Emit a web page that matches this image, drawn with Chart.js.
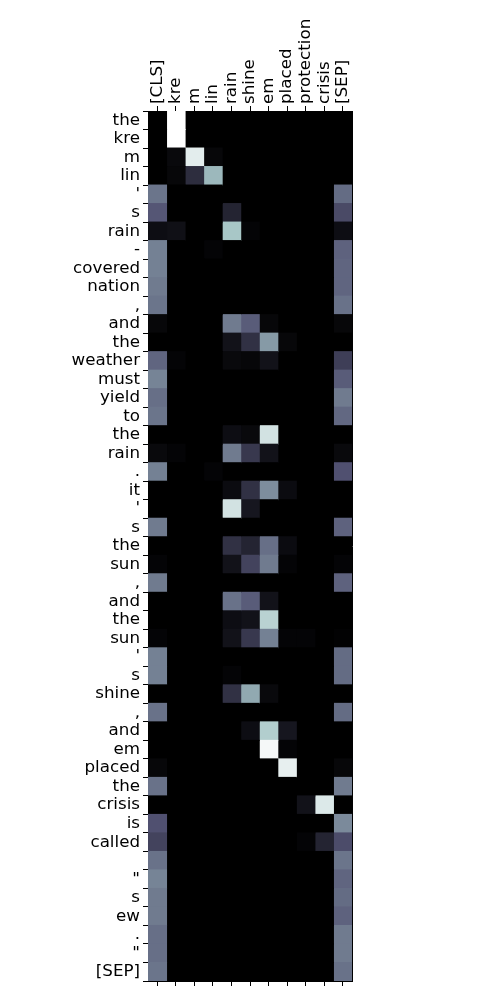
<!DOCTYPE html>
<html>
<head>
<meta charset="utf-8">
<script src="https://cdn.jsdelivr.net/npm/chart.js@4/dist/chart.umd.min.js"></script>
<style>
html,body{margin:0;padding:0;background:#fff;}
#wrap{width:500px;height:1000px;}
</style>
</head>
<body>
<div id="wrap"><canvas id="c" width="500" height="1000"></canvas></div>
<script>
const colTokens = ['[CLS]','kre','m','lin','rain','shine','em','placed','protection','crisis','[SEP]'];
const rowTokens = ['the','kre','m','lin',"'",'s','rain','-','covered','nation',',','and','the','weather','must','yield','to','the','rain','.','it',"'",'s','the','sun',',','and','the','sun',"'",'s','shine',',','and','em','placed','the','crisis','is','called',' ','"','s','ew','.','"','[SEP]'];
// attention weights (row token -> column token), 0..1
const attention = [
  [0,1,0,0,0,0,0,0,0,0,0],
  [0,1,0,0,0,0,0,0,0,0,0],
  [0,.04,.92,.03,0,0,0,0,0,0,0],
  [0,.03,.2,.7,0,0,0,0,0,0,0],
  [.48,0,0,0,0,0,0,0,0,0,.45],
  [.38,0,0,0,.16,0,0,0,0,0,.33],
  [.06,.07,0,0,.75,.02,0,0,0,0,.06],
  [.52,0,0,.02,0,0,0,0,0,0,.42],
  [.52,0,0,0,0,0,0,0,0,0,.43],
  [.5,0,0,0,0,0,0,0,0,0,.43],
  [.48,0,0,0,0,0,0,0,0,0,.47],
  [.03,0,0,0,.5,.4,.03,0,0,0,.03],
  [0,0,0,0,.08,.22,.6,.03,0,0,0],
  [.43,.02,0,0,.04,.03,.08,0,0,0,.28],
  [.53,0,0,0,0,0,0,0,0,0,.4],
  [.46,0,0,0,0,0,0,0,0,0,.5],
  [.48,0,0,0,0,0,0,0,0,0,.44],
  [0,0,0,0,.06,.04,.87,0,0,0,0],
  [.04,.02,0,0,.5,.25,.08,0,0,0,.04],
  [.52,0,0,.02,0,0,0,0,0,0,.36],
  [0,0,0,0,.05,.22,.56,.05,0,0,0],
  [0,0,0,0,.87,.1,0,0,0,0,0],
  [.5,0,0,0,0,0,0,0,0,0,.42],
  [0,0,0,0,.22,.16,.46,.05,0,0,0],
  [.02,0,0,0,.08,.3,.5,.02,0,0,.02],
  [.5,0,0,0,0,0,0,0,0,0,.42],
  [0,0,0,0,.47,.4,.08,0,0,0,0],
  [0,0,0,0,.06,.08,.8,0,0,0,0],
  [.02,0,0,0,.08,.25,.52,.02,.02,0,.01],
  [.52,0,0,0,0,0,0,0,0,0,.45],
  [.52,0,0,0,.02,0,0,0,0,0,.45],
  [0,0,0,0,.22,.65,.04,0,0,0,0],
  [.47,0,0,0,0,0,0,0,0,0,.45],
  [0,0,0,0,0,.06,.78,.1,0,0,0],
  [0,0,0,0,0,0,.97,.02,0,0,0],
  [.03,0,0,0,0,0,0,.93,0,0,.03],
  [.47,0,0,0,0,0,0,0,0,0,.5],
  [0,0,0,0,0,0,0,0,.08,.9,0],
  [.36,0,0,0,0,0,0,0,0,0,.55],
  [.3,0,0,0,0,0,0,0,.02,.16,.34],
  [.47,0,0,0,0,0,0,0,0,0,.48],
  [.53,0,0,0,0,0,0,0,0,0,.43],
  [.5,0,0,0,0,0,0,0,0,0,.45],
  [.5,0,0,0,0,0,0,0,0,0,.42],
  [.46,0,0,0,0,0,0,0,0,0,.5],
  [.46,0,0,0,0,0,0,0,0,0,.5],
  [.48,0,0,0,0,0,0,0,0,0,.47]
];

function interp(x, pts){
  for(let i=1;i<pts.length;i++){
    if(x<=pts[i][0]){
      const [x0,y0]=pts[i-1],[x1,y1]=pts[i];
      return y0+(x-x0)/(x1-x0)*(y1-y0);
    }
  }
  return pts[pts.length-1][1];
}
function bone(v){
  v=Math.max(0,Math.min(1,v));
  const r=interp(v,[[0,0],[0.746032,0.652778],[1,1]]);
  const g=interp(v,[[0,0],[0.365079,0.319444],[0.746032,0.777778],[1,1]]);
  const b=interp(v,[[0,0],[0.365079,0.444444],[1,1]]);
  return `rgb(${Math.round(r*255)},${Math.round(g*255)},${Math.round(b*255)})`;
}

const FS = 16.7;
const FONT = {family:'"DejaVu Sans", sans-serif', size:FS};
const centerTicks = (scale)=>{ scale.ticks = colTokens.map((c,i)=>({value:i+0.5})); };

const datasets = colTokens.map((col,ci)=>({
  label: col,
  data: rowTokens.map(()=>1),
  backgroundColor: attention.map(r=>bone(r[ci])),
  borderWidth: 0,
  inflateAmount: 0.5,
  barPercentage: 1,
  categoryPercentage: 1,
  xAxisID: 'x',
  yAxisID: 'y'
}));

const areaBg = {
  id: 'areaBg',
  beforeDatasetsDraw(chart){
    const {ctx, chartArea:a} = chart;
    ctx.save();
    ctx.fillStyle = bone(0);
    ctx.fillRect(a.left, a.top, a.right - a.left, a.bottom - a.top);
    ctx.restore();
  }
};

new Chart(document.getElementById('c'), {
  type: 'bar',
  data: { labels: rowTokens, datasets },
  plugins: [areaBg],
  options: {
    indexAxis: 'y',
    responsive: false,
    animation: false,
    layout: { padding: 0 },
    plugins: { legend: {display:false}, tooltip: {enabled:false} },
    scales: {
      x: {
        type: 'linear', position: 'top', stacked: true, min: 0, max: 11,
        afterBuildTicks: centerTicks,
        afterFit: (s)=>{ s.height = 111; },
        grid: { drawOnChartArea:false, drawTicks:true, tickLength:5, color:'#000', tickWidth:1 },
        border: { display:true, color:'#000', width:1 },
        ticks: { autoSkip:false, minRotation:90, maxRotation:90, padding:2, labelOffset: FS*1.2,
                 color:'#000', font:FONT, callback:(v,i)=>colTokens[i] }
      },
      x2: {
        type: 'linear', position: 'bottom', min: 0, max: 11,
        afterBuildTicks: centerTicks,
        afterFit: (s)=>{ s.height = 19; },
        grid: { drawOnChartArea:false, drawTicks:true, tickLength:5, color:'#000', tickWidth:1 },
        border: { display:true, color:'#000', width:1 },
        ticks: { autoSkip:false, color:'#000', font:FONT, callback:()=>'' }
      },
      y: {
        type: 'category', position: 'left', stacked: true, offset: true,
        afterFit: (s)=>{ s.width = 148; },
        grid: { drawOnChartArea:false, drawTicks:true, tickLength:5, color:'#000', tickWidth:1 },
        border: { display:true, color:'#000', width:1 },
        ticks: { autoSkip:false, padding:3, color:'#000', font:FONT }
      },
      y2: {
        type: 'linear', position: 'right', min: 0, max: 1,
        afterFit: (s)=>{ s.width = 148; },
        grid: { display:false, drawOnChartArea:false, drawTicks:false },
        border: { display:true, color:'#000', width:1 },
        ticks: { display:false }
      }
    }
  }
});
</script>
</body>
</html>
